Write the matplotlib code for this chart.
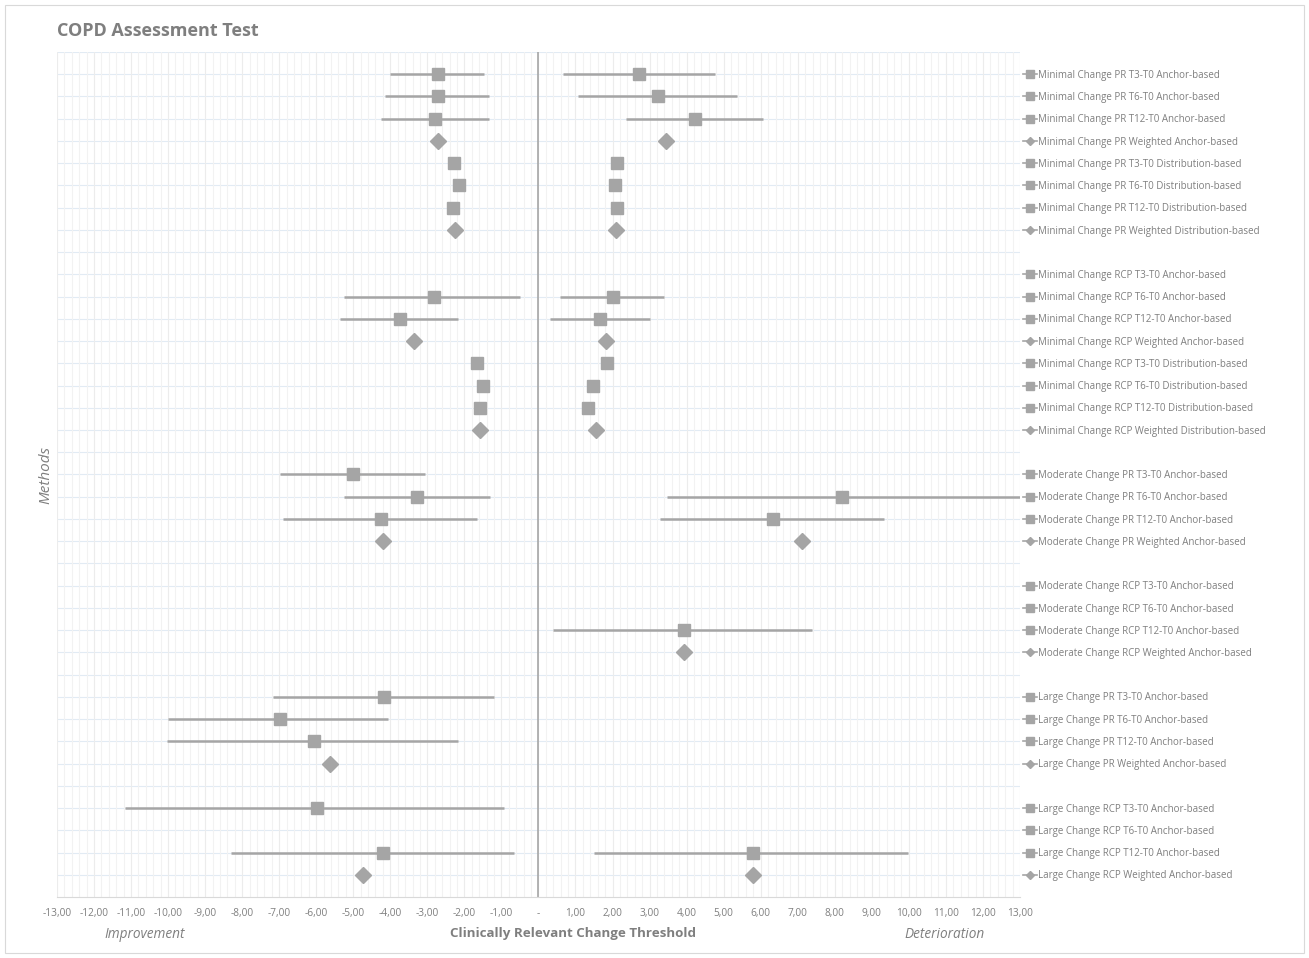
import numpy as np
import matplotlib
matplotlib.use("Agg")
import matplotlib.pyplot as plt
from matplotlib.ticker import FuncFormatter, MultipleLocator
from matplotlib.lines import Line2D
from matplotlib.patches import Rectangle
import matplotlib.transforms as mtransforms

plt.rcParams['font.family'] = ['Open Sans', 'DejaVu Sans']

nan = np.nan

# series names, top to bottom; a blank row separates the groups
group_sizes = [8, 8, 4, 4, 4, 4]
labels = [
    "Minimal Change PR T3-T0 Anchor-based",
    "Minimal Change PR T6-T0 Anchor-based",
    "Minimal Change PR T12-T0 Anchor-based",
    "Minimal Change PR Weighted Anchor-based",
    "Minimal Change PR T3-T0 Distribution-based",
    "Minimal Change PR T6-T0 Distribution-based",
    "Minimal Change PR T12-T0 Distribution-based",
    "Minimal Change PR Weighted Distribution-based",
    "Minimal Change RCP T3-T0 Anchor-based",
    "Minimal Change RCP T6-T0 Anchor-based",
    "Minimal Change RCP T12-T0 Anchor-based",
    "Minimal Change RCP Weighted Anchor-based",
    "Minimal Change RCP T3-T0 Distribution-based",
    "Minimal Change RCP T6-T0 Distribution-based",
    "Minimal Change RCP T12-T0 Distribution-based",
    "Minimal Change RCP Weighted Distribution-based",
    "Moderate Change PR T3-T0 Anchor-based",
    "Moderate Change PR T6-T0 Anchor-based",
    "Moderate Change PR T12-T0 Anchor-based",
    "Moderate Change PR Weighted Anchor-based",
    "Moderate Change RCP T3-T0 Anchor-based",
    "Moderate Change RCP T6-T0 Anchor-based",
    "Moderate Change RCP T12-T0 Anchor-based",
    "Moderate Change RCP Weighted Anchor-based",
    "Large Change PR T3-T0 Anchor-based",
    "Large Change PR T6-T0 Anchor-based",
    "Large Change PR T12-T0 Anchor-based",
    "Large Change PR Weighted Anchor-based",
    "Large Change RCP T3-T0 Anchor-based",
    "Large Change RCP T6-T0 Anchor-based",
    "Large Change RCP T12-T0 Anchor-based",
    "Large Change RCP Weighted Anchor-based",
]

# improvement side (negative values)
impr_est = [-2.72, -2.72, -2.78, -2.72, -2.27, -2.15, -2.32, -2.25,
            nan, -2.83, -3.75, -3.37, -1.65, -1.51, -1.57, -1.57,
            -5.00, -3.27, -4.25, -4.21,
            nan, nan, nan, nan,
            -4.18, -6.99, -6.07, -5.62,
            -5.99, nan, -4.21, -4.75]
impr_lo = [-4.00, -4.13, -4.25, nan, nan, nan, nan, nan,
           nan, -5.24, -5.36, nan, nan, nan, nan, nan,
           -6.97, -5.26, -6.90, nan,
           nan, nan, nan, nan,
           -7.18, -9.99, -10.04, nan,
           -11.15, nan, -8.29, nan]
impr_hi = [-1.46, -1.34, -1.34, nan, nan, nan, nan, nan,
           nan, -0.49, -2.17, nan, nan, nan, nan, nan,
           -3.07, -1.31, -1.65, nan,
           nan, nan, nan, nan,
           -1.21, -4.05, -2.16, nan,
           -0.92, nan, -0.65, nan]

# deterioration side (positive values)
det_est = [2.72, 3.23, 4.23, 3.44, 2.11, 2.07, 2.13, 2.10,
           nan, 2.00, 1.65, 1.82, 1.86, 1.47, 1.33, 1.56,
           nan, 8.19, 6.34, 7.11,
           nan, nan, 3.93, 3.93,
           nan, nan, nan, nan,
           nan, nan, 5.78, 5.78]
det_lo = [0.67, 1.07, 2.37, nan, nan, nan, nan, nan,
          nan, 0.59, 0.30, nan, nan, nan, nan, nan,
          nan, 3.46, 3.29, nan,
          nan, nan, 0.40, nan,
          nan, nan, nan, nan,
          nan, nan, 1.51, nan]
det_hi = [4.76, 5.35, 6.05, nan, nan, nan, nan, nan,
          nan, 3.38, 3.00, nan, nan, nan, nan, nan,
          nan, 14.5, 9.32, nan,
          nan, nan, 7.39, nan,
          nan, nan, nan, nan,
          nan, nan, 9.99, nan]

# row positions with a gap between groups
rows = []
pos = 1
for n in group_sizes:
    rows += list(range(pos, pos + n))
    pos += n + 1
rows = np.array(rows, dtype=float)

gray = '#a5a5a5'
txt = '#7f7f7f'

fig = plt.figure(figsize=(13.09, 9.58), dpi=100)
fig.patches.append(Rectangle((0.004, 0.005), 0.992, 0.99, transform=fig.transFigure,
                             fill=False, edgecolor='#d9d9d9', linewidth=0.8))
ax = fig.add_axes([0.0435, 0.0637, 0.7357, 0.882])

ax.set_xlim(-13, 13)
ax.set_ylim(rows[-1] + 1, 0)

# grid
ax.xaxis.set_major_locator(MultipleLocator(1))
ax.xaxis.set_minor_locator(MultipleLocator(0.2))
ax.grid(which='minor', axis='x', color='#f2f2f2', linewidth=0.8)
ax.grid(which='major', axis='x', color='#ececec', linewidth=0.8)
for r in np.arange(0, rows[-1] + 1):
    ax.axhline(r, color='#e2ebf4', linewidth=0.8, zorder=0)
ax.set_axisbelow(True)
ax.axvline(0, color='#a6a6a6', linewidth=1.2, zorder=1)

impr_est = np.array(impr_est); impr_lo = np.array(impr_lo); impr_hi = np.array(impr_hi)
det_est = np.array(det_est); det_lo = np.array(det_lo); det_hi = np.array(det_hi)

weighted = np.array(["Weighted" in s for s in labels])

for lo, hi in [(impr_lo, impr_hi), (det_lo, det_hi)]:
    m = ~np.isnan(lo)
    ax.hlines(rows[m], lo[m], hi[m], color=gray, linewidth=1.8, zorder=2)

for est in [impr_est, det_est]:
    sq = ~weighted & ~np.isnan(est)
    dm = weighted & ~np.isnan(est)
    ax.plot(est[sq], rows[sq], 's', color=gray, markersize=8.3, zorder=3)
    ax.plot(est[dm], rows[dm], 'D', color=gray, markersize=8.3, zorder=3)

ax.xaxis.set_major_formatter(FuncFormatter(
    lambda v, p: '-' if abs(v) < 1e-9 else f"{v:.2f}".replace('.', ',')))
ax.tick_params(axis='x', which='both', length=0, labelsize=7.3, labelcolor=txt, pad=8)
ax.set_yticks([])
for s in ['top', 'left', 'right']:
    ax.spines[s].set_visible(False)
ax.spines['bottom'].set_color('#d9d9d9')

# legend at the right, one entry per row
trans = mtransforms.blended_transform_factory(ax.transAxes, ax.transData)
for r, lab, w in zip(rows, labels, weighted):
    ax.add_line(Line2D([1.003, 1.0105, 1.018], [r, r, r], transform=trans, color=gray,
                       linewidth=1.2, marker='D' if w else 's',
                       markersize=4 if w else 5.5, markevery=[1],
                       clip_on=False))
    ax.text(1.0185, r + 0.05, lab, transform=trans, fontsize=7.0, color=txt,
            va='center', ha='left', clip_on=False)

fig.text(0.0435, 0.968, "COPD Assessment Test", fontsize=13, fontweight='bold',
         color='#7f7f7f', va='center', ha='left')
fig.text(0.035, 1 - 475 / 958, "Methods", rotation=90, fontsize=11, style='italic',
         color=txt, va='center', ha='center')
fig.text(145 / 1309, 1 - 934 / 958, "Improvement", fontsize=9.8, style='italic',
         color=txt, va='center', ha='center')
fig.text(573 / 1309, 1 - 934 / 958, "Clinically Relevant Change Threshold", fontsize=9.6,
         fontweight='bold', color='#7f7f7f', va='center', ha='center')
fig.text(945 / 1309, 1 - 934 / 958, "Deterioration", fontsize=9.8, style='italic',
         color=txt, va='center', ha='center')

fig.savefig("out.png", dpi=100)
